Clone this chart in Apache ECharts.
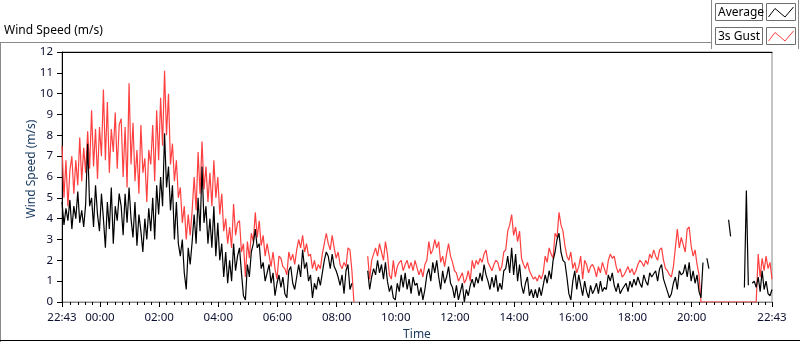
<!DOCTYPE html>
<html>
<head>
<meta charset="utf-8">
<script src="https://cdn.jsdelivr.net/npm/echarts@6/dist/echarts.min.js"></script>
<style>
html,body{margin:0;padding:0;background:#fff;}
#chart{width:800px;height:342px;}
</style>
</head>
<body>
<div id="chart"></div>
<script>
// Time base: minutes relative to 00:00; first sample at 22:43 the previous day
const startMinute = -77;
const stepMinutes = 4;
const endMinute = 1363;

// 3s Gust (m/s), one value every 4 minutes, one row per hour
const gust = [
  7.5, 5.0, 6.8, 4.6, 6.3, 7.0, 5.2, 6.8, 5.6, 7.9, 5.8, 7.4, 6.2, 8.2, 6.4,
  9.2, 6.5, 8.3, 5.9, 8.4, 7.0, 10.2, 6.8, 9.6, 6.2, 8.3, 7.2, 9.1, 6.4, 8.5,
  8.8, 6.0, 8.4, 5.5, 10.5, 6.6, 8.6, 5.8, 7.3, 5.2, 8.5, 6.2, 6.9, 4.8, 7.3,
  6.6, 8.5, 5.8, 9.2, 6.8, 9.8, 7.5, 11.1, 8.0, 10.0, 6.6, 7.6, 5.8, 6.8, 5.0,
  5.5, 3.8, 4.6, 3.0, 4.2, 3.2, 4.4, 6.0, 4.4, 7.2, 5.2, 7.7, 5.4, 6.5, 4.8,
  6.2, 4.6, 6.8, 5.0, 6.0, 4.2, 5.2, 3.4, 4.0, 2.8, 3.6, 2.6, 4.7, 3.2, 3.8,
  3.9, 2.4, 2.8, 1.2, 2.9, 2.1, 3.3, 2.9, 4.3, 3.1, 3.9, 2.7, 3.2, 2.2, 2.8,
  2.8, 1.7, 2.4, 1.6, 1.1, 2.2, 2.1, 1.7, 1.6, 1.3, 2.4, 2.0, 2.3, 1.8, 2.5,
  3.0, 2.6, 3.2, 2.4, 2.8, 2.2, 2.3, 1.6, 2.0, 1.5, 1.8, 1.6, 2.3, 2.8, 3.3,
  2.8, 2.5, 3.2, 2.6, 2.1, 2.4, 1.8, 1.6, 1.9, 1.7, 2.6, 2.5, 1.5, 0, null,
  null, null, null, null, null, 2.2, 1.1, 2.0, 2.3, 2.6, 2.2, 2.8, 2.4, 2.0, 2.9,
  2.3, 1.3, 1.1, 2.0, 1.2, 1.7, 1.9, 2.0, 1.5, 1.8, 2.0, 1.6, 1.9, 1.5, 2.0,
  2.0, 1.3, 1.6, 1.2, 1.8, 2.0, 2.9, 2.3, 2.5, 3.0, 2.6, 2.9, 1.9, 2.2, 1.7,
  2.3, 2.8, 2.2, 1.9, 1.5, 1.4, 1.0, 1.2, 1.4, 0.9, 1.1, 1.5, 1.0, 2.0, 1.6,
  2.0, 1.8, 2.1, 1.9, 2.3, 2.5, 1.9, 1.7, 1.5, 1.8, 2.0, 1.9, 1.5, 1.7, 2.4,
  2.5, 3.4, 3.7, 4.2, 3.2, 3.6, 2.9, 3.4, 2.1, 1.8, 1.6, 1.9, 1.5, 1.3, 1.1,
  1.2, 1.0, 1.3, 1.1, 1.4, 2.2, 1.9, 2.6, 2.3, 2.1, 3.3, 3.1, 4.3, 3.7, 3.4,
  2.7, 2.2, 2.0, 2.4, 1.6, 1.9, 1.4, 1.7, 2.2, 1.1, 2.0, 1.8, 1.4, 1.7, 1.8,
  1.6, 1.2, 1.7, 1.4, 1.9, 1.6, 1.3, 2.0, 2.3, 2.1, 2.2, 1.7, 1.4, 1.6, 1.2,
  1.3, 1.5, 1.7, 1.4, 1.6, 1.3, 1.5, 1.8, 2.0, 1.9, 1.7, 2.0, 1.8, 2.3, 2.1,
  2.5, 2.2, 2.0, 2.5, 2.6, 2.0, 1.6, 1.5, 1.3, 1.2, 1.7, 2.6, 3.5, 2.6, 3.1,
  3.1, 2.4, 3.5, 3.6, 2.7, 2.2, 2.5, 1.8, 1.3, 0, 0, 0, 0, 0, 0,
  0, 0, 0, 0, 0, 0, 0, 0, 0, 0, 0, 0, 0, 0, 0,
  0, 0, 0, 0, 0, 0, 0, 0, 2.3, 1.2, 2.1, 1.5, 2.2, 1.6, 1.9, 1.1
];

// Average (m/s), same sampling
const average = [
  4.8, 3.7, 4.5, 3.9, 4.9, 3.5, 4.6, 4.0, 5.3, 3.8, 4.4, 3.6, 4.7, 7.6, 4.6,
  5.0, 3.6, 5.6, 4.2, 3.4, 5.2, 4.0, 2.6, 4.8, 3.5, 5.5, 2.8, 4.6, 3.9, 5.2,
  4.6, 3.2, 5.2, 3.8, 5.5, 4.0, 3.1, 4.8, 2.7, 4.2, 3.4, 2.4, 4.0, 3.0, 4.5,
  3.4, 5.0, 3.0, 5.6, 4.2, 6.0, 4.6, 8.1, 5.5, 6.5, 4.4, 5.6, 3.0, 4.8, 2.8,
  2.2, 3.0, 1.4, 0.6, 2.6, 1.8, 2.9, 4.2, 2.8, 5.0, 3.4, 6.5, 3.8, 4.6, 2.8,
  4.0, 2.6, 4.6, 2.2, 3.8, 2.0, 2.8, 1.2, 2.4, 0.9, 2.0, 1.0, 2.8, 1.5, 2.2,
  2.6, 1.4, 0.3, 0.1, 1.8, 1.2, 2.4, 2.8, 3.5, 2.6, 2.8, 1.6, 1.9, 1.0, 1.4,
  1.8, 0.9, 1.4, 0.3, 0.9, 1.3, 0.7, 1.2, 0.4, 0.2, 1.5, 1.7, 0.9, 0.6, 1.2,
  1.8, 1.2, 2.5, 1.6, 1.9, 1.0, 1.3, 0.2, 0.9, 0.6, 1.2, 0.8, 1.4, 2.0, 2.4,
  2.2, 1.6, 2.3, 1.7, 1.5, 1.2, 0.8, 1.3, 0.4, 1.5, 1.8, 0.6, 0.9, null, null,
  null, null, null, null, null, 1.5, 0.6, 1.2, 1.6, 1.3, 2.0, 1.4, 1.8, 1.1, 1.9,
  1.0, 0.5, 0.8, 0.2, 0.1, 0.9, 0.5, 1.3, 0.7, 1.4, 0.6, 1.1, 0.4, 1.2, 0.8,
  0.9, 0.3, 0.7, 0.1, 0.6, 1.3, 1.6, 1.0, 1.9, 1.4, 2.0, 1.2, 0.6, 1.5, 0.9,
  1.2, 1.7, 0.9, 0.7, 0.2, 0.8, 0.1, 0.5, 0.9, 0.0, 0.6, 0.3, 0.8, 1.1, 0.7,
  1.2, 0.9, 1.4, 1.0, 1.8, 1.3, 1.0, 0.6, 1.2, 0.7, 1.3, 0.5, 0.9, 0.6, 1.5,
  1.6, 2.2, 1.4, 2.6, 1.3, 2.3, 1.0, 1.8, 0.8, 0.4, 0.9, 1.2, 0.3, 0.6, 0.2,
  0.6, 0.2, 0.7, 0.3, 0.8, 1.3, 0.9, 1.5, 1.1, 2.0, 2.4, 3.0, 3.3, 2.4, 2.0,
  1.9, 1.2, 0.4, 0.1, 1.0, 1.5, 0.6, 1.3, 0.8, 0.3, 1.0, 0.5, 0.2, 0.8, 0.4,
  0.6, 0.9, 0.4, 1.0, 0.5, 0.7, 0.6, 1.3, 1.0, 1.4, 0.8, 0.5, 0.9, 0.4, 0.6,
  0.6, 0.9, 0.5, 1.0, 0.7, 1.1, 0.8, 1.2, 0.9, 0.7, 1.3, 1.0, 0.8, 1.4, 1.2,
  1.2, 1.5, 1.0, 1.6, 1.8, 1.1, 0.8, 0.5, 0.2, 0.4, 0.9, 1.2, 0.6, 1.5, 1.3,
  1.4, 1.8, 1.2, 1.9, 1.0, 1.5, 0.9, 1.3, 0.5, 0.2, 1.9, null, 2.1, 1.6, null,
  null, null, null, null, null, null, null, null, 3.95, 3.15, null, null, null, null, null,
  null, 0.7, 5.35, 0.8, null, 0.9, 1.0, 0.7, 1.2, 0.5, 1.5, 0.6, 1.0, 0.4, 0.3, 0.6
];

// Axis ticks (minutes relative to 00:00)
const xMajorTicks = [-77, 0, 120, 240, 360, 480, 600, 720, 840, 960, 1080, 1200, 1363];
const yTicks = [0, 1, 2, 3, 4, 5, 6, 7, 8, 9, 10, 11, 12];
const seriesNames = ['Average', '3s Gust'];

const xMinorTicks = [];
for (let m = -60; m <= 1350; m += 15) {
  if (xMajorTicks.indexOf(m) < 0) xMinorTicks.push(m);
}

function pair(arr) {
  return arr.map((v, i) => [startMinute + i * stepMinutes, v]);
}
function fmtTime(v) {
  let m = ((Math.round(v) % 1440) + 1440) % 1440;
  const h = Math.floor(m / 60), mm = m % 60;
  return String(h).padStart(2, '0') + ':' + String(mm).padStart(2, '0');
}

const FONT = 'Noto Sans';
const chart = echarts.init(document.getElementById('chart'), null, {renderer: 'canvas'});

function legendBox(y, label, color) {
  return [
    {type: 'rect', shape: {x: 715.5, y: y + 0.5, width: 47, height: 17},
     style: {fill: '#fff', stroke: '#6e6e6e', lineWidth: 1}, z: 10},
    {type: 'text', x: 718, y: y + 9.5,
     style: {text: label, fill: '#000', font: '12px "' + FONT + '"', verticalAlign: 'middle'}, z: 11},
    {type: 'rect', shape: {x: 766.5, y: y + 0.5, width: 29, height: 17},
     style: {fill: '#fff', stroke: '#6e6e6e', lineWidth: 1}, z: 10},
    {type: 'polyline', shape: {points: [[768.5, y + 14], [775, y + 5.5], [785, y + 14], [793.5, y + 4]]},
     style: {stroke: color, lineWidth: 1, fill: null}, z: 11}
  ];
}

const option = {
  backgroundColor: '#fff',
  animation: false,
  textStyle: {fontFamily: FONT},
  title: {
    text: 'Wind Speed (m/s)', left: 4, top: 25, padding: 0,
    textStyle: {fontSize: 12, fontWeight: 'normal', color: '#000', fontFamily: FONT}
  },
  grid: {
    left: 62, right: 28, top: 52, bottom: 40,
    outerBoundsMode: 'none', containLabel: false,
    show: true, borderColor: '#8a8a8a', borderWidth: 1, backgroundColor: '#fff'
  },
  xAxis: [
    {
      type: 'value', min: startMinute, max: endMinute, position: 'bottom',
      name: 'Time', nameLocation: 'middle', nameGap: 27, nameMoveOverlap: false,
      nameTextStyle: {fontSize: 12, color: '#17375e', fontFamily: FONT},
      axisLine: {show: true, onZero: false, lineStyle: {color: '#8a8a8a', width: 1}},
      axisTick: {show: true, customValues: xMajorTicks, length: 5, inside: false, lineStyle: {color: '#000'}},
      axisLabel: {show: true, customValues: xMajorTicks, formatter: fmtTime, margin: 10,
                  fontSize: 11.5, color: '#0c1030', fontFamily: FONT},
      splitLine: {show: false}
    },
    {
      type: 'value', min: startMinute, max: endMinute, position: 'bottom',
      axisLine: {show: false, onZero: false},
      axisTick: {show: true, customValues: xMinorTicks, length: 3, lineStyle: {color: '#000'}},
      axisLabel: {show: false},
      splitLine: {show: false}
    },
    {
      type: 'value', min: startMinute, max: endMinute, position: 'top',
      axisLine: {show: true, onZero: false, lineStyle: {color: '#000', width: 1}},
      axisTick: {show: false}, axisLabel: {show: false}, splitLine: {show: false}
    }
  ],
  yAxis: {
    type: 'value', min: yTicks[0], max: yTicks[yTicks.length - 1], interval: 1,
    name: 'Wind Speed (m/s)', nameLocation: 'middle', nameGap: 24, nameRotate: 90, nameMoveOverlap: false,
    nameTextStyle: {fontSize: 12, color: '#17375e', fontFamily: FONT, padding: [0, 0, 0, 16]},
    axisLine: {show: true, onZero: false, lineStyle: {color: '#000', width: 1}},
    axisTick: {show: true, length: 5, lineStyle: {color: '#000'}},
    axisLabel: {margin: 9, fontSize: 11.5, color: '#0c1030', fontFamily: FONT},
    splitLine: {show: false}
  },
  series: [
    {
      name: seriesNames[1], type: 'line', data: pair(gust), xAxisIndex: 0,
      showSymbol: false, connectNulls: false, sampling: null, silent: true,
      lineStyle: {color: '#ff4040', width: 1.2}, itemStyle: {color: '#ff4040'}, z: 2
    },
    {
      name: seriesNames[0], type: 'line', data: pair(average), xAxisIndex: 0,
      showSymbol: false, connectNulls: false, sampling: null, silent: true,
      lineStyle: {color: '#000', width: 1.2}, itemStyle: {color: '#000'}, z: 3
    }
  ],
  graphic: [
    {type: 'line', shape: {x1: 0, y1: 42.5, x2: 712, y2: 42.5}, style: {stroke: '#8a8a8a', lineWidth: 1}},
    {type: 'line', shape: {x1: 0.5, y1: 42, x2: 0.5, y2: 342}, style: {stroke: '#8a8a8a', lineWidth: 1}},
    {type: 'line', shape: {x1: 0, y1: 340.5, x2: 800, y2: 340.5}, style: {stroke: '#000', lineWidth: 1}},
    {type: 'line', shape: {x1: 711.5, y1: 0, x2: 711.5, y2: 49}, style: {stroke: '#8a8a8a', lineWidth: 1}},
    {type: 'line', shape: {x1: 798.5, y1: 0, x2: 798.5, y2: 49}, style: {stroke: '#8a8a8a', lineWidth: 1}}
  ].concat(legendBox(3, seriesNames[0], '#000')).concat(legendBox(27, seriesNames[1], '#ff4040'))
};

chart.setOption(option);
</script>
</body>
</html>
